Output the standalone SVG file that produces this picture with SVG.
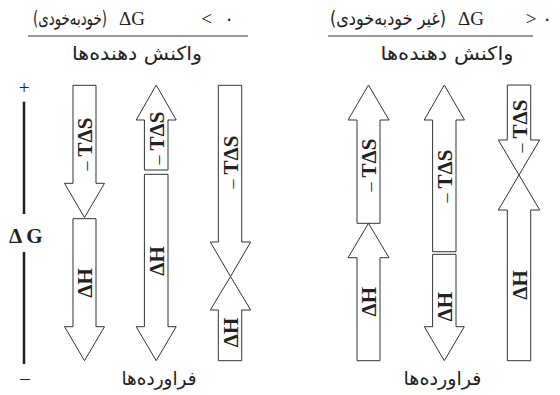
<svg xmlns="http://www.w3.org/2000/svg" width="560" height="395" viewBox="0 0 560 395">
<style>
.ar{fill:none;stroke:#333;stroke-width:1}
.lb{font-family:"Liberation Serif",serif;font-size:21px;font-weight:bold;fill:#222}
.mn{font-weight:normal;font-size:18px}
.fa{font-family:"DejaVu Sans",sans-serif;font-size:19px;fill:#222}
.ti{font-family:"Liberation Serif",serif;font-size:19px;fill:#222}
.rule{stroke:#333;stroke-width:1}
</style>
<rect width="560" height="395" fill="#fff"/>
<g id="title-left">
<text class="fa" x="70" y="25" font-size="14" text-anchor="middle" textLength="74" lengthAdjust="spacingAndGlyphs">(خودبه‌خودی)</text>
<text class="ti" x="119" y="25">ΔG</text>
<text class="ti" x="206.5" y="25" text-anchor="middle">&lt;</text>
<text class="fa" x="229" y="25" text-anchor="middle">۰</text>
<line class="rule" x1="28" y1="36" x2="248" y2="36"/>
<text class="fa" x="137" y="60" text-anchor="middle" textLength="130" lengthAdjust="spacingAndGlyphs">واکنش دهنده‌ها</text>
</g>
<g id="title-right">
<text class="fa" x="388" y="25" font-size="14" text-anchor="middle" textLength="116" lengthAdjust="spacingAndGlyphs">(غیر خودبه‌خودی)</text>
<text class="ti" x="458" y="25">ΔG</text>
<text class="ti" x="531" y="25" text-anchor="middle">&gt;</text>
<text class="fa" x="547" y="25" text-anchor="middle">۰</text>
<line class="rule" x1="328" y1="36" x2="533" y2="36"/>
<text class="fa" x="447" y="60" text-anchor="middle" textLength="133" lengthAdjust="spacingAndGlyphs">واکنش دهنده‌ها</text>
</g>
<g id="axis">
<text class="ti" x="24" y="94" font-size="15" text-anchor="middle">+</text>
<line x1="24" y1="101.7" x2="24" y2="214" stroke="#222" stroke-width="2.5"/>
<text class="lb" x="9" y="242.5" font-size="18">Δ<tspan dx="4">G</tspan></text>
<line x1="24" y1="252" x2="24" y2="364" stroke="#222" stroke-width="2.5"/>
<text class="ti" x="25" y="384" font-size="15" text-anchor="middle">–</text>
</g>
<g id="connectors">
<g id="arrow1">
<path class="ar" d="M73,85.3 H96 V183.3 H104.5 L84.5,217.5 L64.5,183.3 H73 Z"/>
<path class="ar" d="M73,218.7 H96 V326.7 H104.5 L84.5,360.7 L64.5,326.7 H73 Z"/>
<text class="lb" transform="translate(92,144) rotate(-90)" text-anchor="middle"><tspan class="mn">–</tspan><tspan dx="5">TΔS</tspan></text>
<text class="lb" transform="translate(92,283) rotate(-90)" text-anchor="middle">ΔH</text>
</g>
<g id="arrow2">
<path class="ar" d="M156.2,85 L176.2,120 H168 V170 H144.4 V120 H136.2 Z"/>
<path class="ar" d="M144.4,174.3 H168 V326.7 H176.2 L156.2,360.7 L136.2,326.7 H144.4 Z"/>
<text class="lb" transform="translate(163.7,138) rotate(-90)" text-anchor="middle"><tspan class="mn">–</tspan><tspan dx="5">TΔS</tspan></text>
<text class="lb" transform="translate(163.7,261) rotate(-90)" text-anchor="middle">ΔH</text>
</g>
<g id="arrow3">
<path class="ar" d="M218.3,85.3 H241.7 V242 H250.7 L230.5,276.5 L210.3,242 H218.3 Z"/>
<path class="ar" d="M230.5,276.5 L250.7,310 H241.7 V360.7 H218.3 V310 H210.3 Z"/>
<text class="lb" transform="translate(237.5,162) rotate(-90)" text-anchor="middle"><tspan class="mn">–</tspan><tspan dx="5">TΔS</tspan></text>
<text class="lb" transform="translate(237.5,332.5) rotate(-90)" text-anchor="middle">ΔH</text>
</g>
<g id="arrow4">
<path class="ar" d="M368.5,85 L389,120 H380 V223.3 H357 V120 H348 Z"/>
<path class="ar" d="M368.5,223.3 L389,257.7 H380 V360.7 H357 V257.7 H348 Z"/>
<text class="lb" transform="translate(376,165) rotate(-90)" text-anchor="middle"><tspan class="mn">–</tspan><tspan dx="5">TΔS</tspan></text>
<text class="lb" transform="translate(376,301.7) rotate(-90)" text-anchor="middle">ΔH</text>
</g>
<g id="arrow5">
<path class="ar" d="M444.3,85 L464.5,120 H456 V251.7 H432.6 V120 H424.2 Z"/>
<path class="ar" d="M432.6,254.3 H456 V326.7 H464.3 L444.3,360.7 L424.3,326.7 H432.6 Z"/>
<text class="lb" transform="translate(451.8,176) rotate(-90)" text-anchor="middle"><tspan class="mn">–</tspan><tspan dx="5">TΔS</tspan></text>
<text class="lb" transform="translate(451.8,306.7) rotate(-90)" text-anchor="middle">ΔH</text>
</g>
<g id="arrow6">
<path class="ar" d="M507.3,85 H530.7 V140 H539.7 L519,175 L498.3,140 H507.3 Z"/>
<path class="ar" d="M519,175 L539.7,210 H530.7 V360.7 H507.3 V210 H498.3 Z"/>
<text class="lb" transform="translate(526.5,126) rotate(-90)" text-anchor="middle"><tspan class="mn">–</tspan><tspan dx="5">TΔS</tspan></text>
<text class="lb" transform="translate(526.5,285) rotate(-90)" text-anchor="middle">ΔH</text>
</g>
</g>
<g id="products">
<text class="fa" x="159" y="385" font-size="18" text-anchor="middle" textLength="75" lengthAdjust="spacingAndGlyphs">فراورده‌ها</text>
<text class="fa" x="442.5" y="385" font-size="18" text-anchor="middle" textLength="78" lengthAdjust="spacingAndGlyphs">فراورده‌ها</text>
</g>
</svg>
